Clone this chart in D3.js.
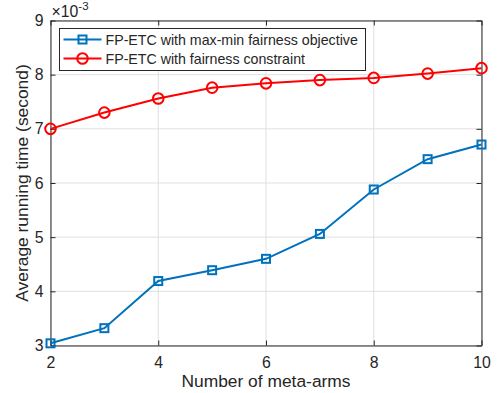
<!DOCTYPE html>
<html>
<head>
<meta charset="utf-8">
<script src="https://cdn.jsdelivr.net/npm/d3@7"></script>
<style>
  body { margin: 0; background: #fff; }
  text { font-family: "Liberation Sans", Arial, Helvetica, sans-serif; fill: #262626; }
</style>
</head>
<body>
<div id="chart"></div>
<script>
(function () {
    'use strict';
    var w = 499;
    var h = 393;

    // data (running time in units of 1e-3 s)
    var metaArms = [2, 3, 4, 5, 6, 7, 8, 9, 10];
    var maxMinTime = [3.04, 3.32, 4.19, 4.39, 4.60, 5.06, 5.88, 6.44, 6.71];
    var constraintTime = [7.00, 7.30, 7.56, 7.76, 7.84, 7.90, 7.94, 8.02, 8.12];
    var seriesNames = ["FP-ETC with max-min fairness objective", "FP-ETC with fairness constraint"];
    var xTicks = [2, 4, 6, 8, 10];
    var yTicks = [3, 4, 5, 6, 7, 8, 9];

    var blue = "#0072BD";
    var red = "#FF0000";

    var margin = {left: 50.5, right: 17.5, top: 20.5, bottom: 47.5};
    var iw = w - margin.left - margin.right;
    var ih = h - margin.top - margin.bottom;

    var svg = d3.select("#chart")
        .append("svg")
        .attr("width", w)
        .attr("height", h);

    var g = svg.append("g")
        .attr("transform", "translate(" + margin.left + "," + margin.top + ")");

    var x = d3.scaleLinear().domain([2, 10]).range([0, iw]);
    var y = d3.scaleLinear().domain([3, 9]).range([ih, 0]);

    // grid
    g.selectAll(".gx").data(xTicks).enter().append("line")
        .attr("x1", function (d) { return x(d); })
        .attr("x2", function (d) { return x(d); })
        .attr("y1", 0).attr("y2", ih)
        .attr("stroke", "#dfdfdf").attr("stroke-width", 1);
    g.selectAll(".gy").data(yTicks).enter().append("line")
        .attr("y1", function (d) { return y(d); })
        .attr("y2", function (d) { return y(d); })
        .attr("x1", 0).attr("x2", iw)
        .attr("stroke", "#dfdfdf").attr("stroke-width", 1);

    // axes (MATLAB style: inward ticks, box)
    function styleAxis(sel) {
        sel.selectAll("path").attr("stroke", "#262626");
        sel.selectAll("line").attr("stroke", "#262626");
        sel.selectAll("text").style("font-size", "15.8px").attr("fill", "#262626");
    }
    var xAxis = g.append("g").attr("transform", "translate(0," + ih + ")")
        .call(d3.axisBottom(x).tickValues(xTicks).tickFormat(d3.format("d"))
            .tickSizeInner(-5).tickSizeOuter(0).tickPadding(11));
    styleAxis(xAxis);
    var yAxis = g.append("g")
        .call(d3.axisLeft(y).tickValues(yTicks).tickFormat(d3.format("d"))
            .tickSizeInner(-5).tickSizeOuter(0).tickPadding(7));
    styleAxis(yAxis);
    var xTop = g.append("g")
        .call(d3.axisTop(x).tickValues(xTicks).tickSizeInner(-5).tickSizeOuter(0).tickFormat(""));
    styleAxis(xTop);
    var yRight = g.append("g").attr("transform", "translate(" + iw + ",0)")
        .call(d3.axisRight(y).tickValues(yTicks).tickSizeInner(-5).tickSizeOuter(0).tickFormat(""));
    styleAxis(yRight);

    // exponent label
    var expo = svg.append("text")
        .attr("x", margin.left + 1)
        .attr("y", 17)
        .style("font-size", "15.8px");
    expo.append("tspan").text("\u00d710");
    expo.append("tspan").attr("dy", -7).style("font-size", "11.5px").text("-3");

    // lines
    var line = d3.line()
        .x(function (d) { return x(d[0]); })
        .y(function (d) { return y(d[1]); });

    var dataMaxMin = metaArms.map(function (d, i) { return [d, maxMinTime[i]]; });
    var dataCons = metaArms.map(function (d, i) { return [d, constraintTime[i]]; });

    g.append("path").datum(dataMaxMin)
        .attr("d", line).attr("fill", "none")
        .attr("stroke", blue).attr("stroke-width", 2);
    g.selectAll(".sq").data(dataMaxMin).enter().append("rect")
        .attr("x", function (d) { return x(d[0]) - 4; })
        .attr("y", function (d) { return y(d[1]) - 4; })
        .attr("width", 8).attr("height", 8)
        .attr("fill", "none").attr("stroke", blue).attr("stroke-width", 2);

    g.append("path").datum(dataCons)
        .attr("d", line).attr("fill", "none")
        .attr("stroke", red).attr("stroke-width", 2);
    g.selectAll(".ci").data(dataCons).enter().append("circle")
        .attr("cx", function (d) { return x(d[0]); })
        .attr("cy", function (d) { return y(d[1]); })
        .attr("r", 5.3)
        .attr("fill", "none").attr("stroke", red).attr("stroke-width", 2);

    // axis labels
    svg.append("text")
        .attr("x", margin.left + iw / 2)
        .attr("y", 387)
        .attr("text-anchor", "middle")
        .style("font-size", "17.4px")
        .text("Number of meta-arms");
    svg.append("text")
        .attr("transform", "translate(28," + (margin.top + ih / 2) + ") rotate(-90)")
        .attr("text-anchor", "middle")
        .style("font-size", "17.4px")
        .text("Average running time (second)");

    // legend
    var lg = svg.append("g").attr("transform", "translate(59.5,28.5)");
    lg.append("rect")
        .attr("width", 306).attr("height", 42)
        .attr("fill", "#fff").attr("stroke", "#262626").attr("stroke-width", 1);
    var colors = [blue, red];
    seriesNames.forEach(function (name, i) {
        var yy = 11 + i * 19;
        lg.append("line")
            .attr("x1", 4).attr("x2", 42).attr("y1", yy).attr("y2", yy)
            .attr("stroke", colors[i]).attr("stroke-width", 2);
        if (i === 0) {
            lg.append("rect").attr("x", 19).attr("y", yy - 4).attr("width", 8).attr("height", 8)
                .attr("fill", "none").attr("stroke", blue).attr("stroke-width", 2);
        } else {
            lg.append("circle").attr("cx", 23).attr("cy", yy).attr("r", 5.3)
                .attr("fill", "none").attr("stroke", red).attr("stroke-width", 2);
        }
        lg.append("text")
            .attr("x", 46).attr("y", yy + 5)
            .style("font-size", "14.2px")
            .text(name);
    });
}());
</script>
</body>
</html>
